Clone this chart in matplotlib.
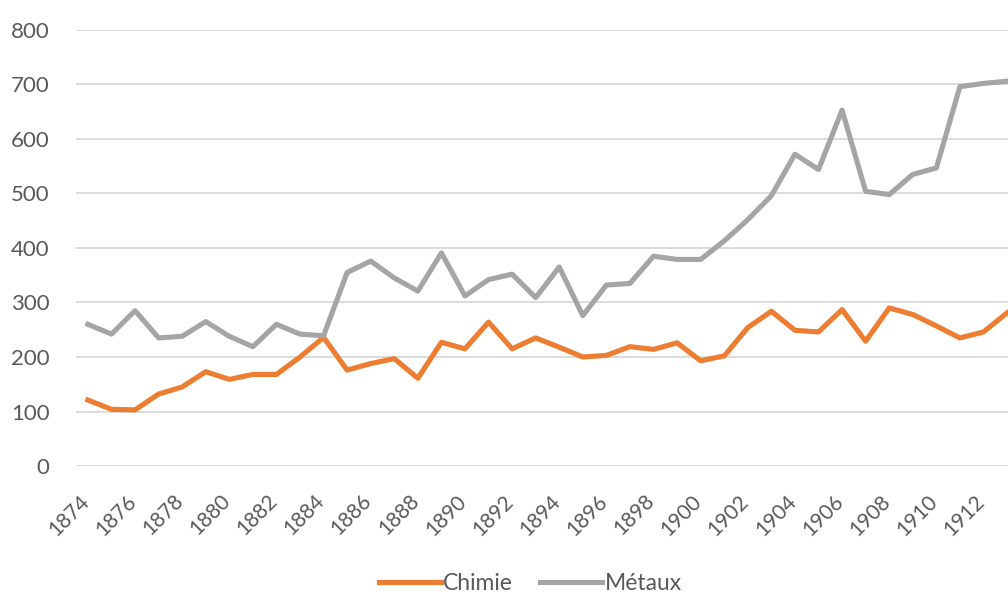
import matplotlib
matplotlib.use("Agg")
import matplotlib.pyplot as plt
import matplotlib.transforms as mtransforms

years = list(range(1874, 1914))
chimie = [121, 104, 103, 132, 145, 173, 159, 168, 168, 200,
          236, 176, 188, 197, 161, 227, 215, 264, 215, 235,
          218, 200, 203, 219, 214, 226, 193, 202, 254, 284,
          249, 246, 287, 229, 290, 278, 257, 235, 246, 281]
metaux = [260, 242, 285, 235, 238, 265, 238, 219, 260, 242,
          239, 355, 376, 345, 321, 391, 312, 342, 352, 309,
          365, 276, 332, 335, 385, 379, 379, 413, 452, 496,
          572, 544, 653, 504, 498, 535, 547, 696, 702, 706]
series_names = ["Chimie", "Métaux"]
yticks = [0, 100, 200, 300, 400, 500, 600, 700, 800]
xtick_years = list(range(1874, 1913, 2))

plt.rcParams['font.family'] = ['Lato', 'DejaVu Sans']

fig = plt.figure(figsize=(10.08, 5.95), dpi=100)
ax = fig.add_axes([0.0755, 0.2168, 1.0 - 0.0755, 0.7328])

ax.plot(years, chimie, color="#ED7D31", lw=3.7, solid_joinstyle="round", label=series_names[0], zorder=3)
ax.plot(years, metaux, color="#A5A5A5", lw=3.7, solid_joinstyle="round", label=series_names[1], zorder=3)

ax.set_ylim(0, 800)
ax.set_xlim(1873.5, 1913.04)
ax.set_yticks(yticks)
ax.set_xticks(xtick_years)
ax.grid(axis="y", color="#D9D9D9", lw=1.3, zorder=0)
ax.set_axisbelow(True)
for s in ax.spines.values():
    s.set_visible(False)

ax.tick_params(axis="y", length=0, pad=19, labelsize=16, labelcolor="#595959")
ax.tick_params(axis="x", length=0, pad=18, labelsize=15, labelcolor="#595959")
offset = mtransforms.ScaledTranslation(5 / 100, 0, fig.dpi_scale_trans)
for lab in ax.get_xticklabels():
    lab.set_rotation(45)
    lab.set_ha("right")
    lab.set_va("top")
    lab.set_transform(lab.get_transform() + offset)

leg = fig.legend(loc="center", bbox_to_anchor=(0.526, 0.02), ncol=2, frameon=False,
                 fontsize=16.5, handlelength=2.7, handletextpad=0.1, columnspacing=1.2,
                 labelcolor="#595959")

fig.savefig("out.png", dpi=100)
